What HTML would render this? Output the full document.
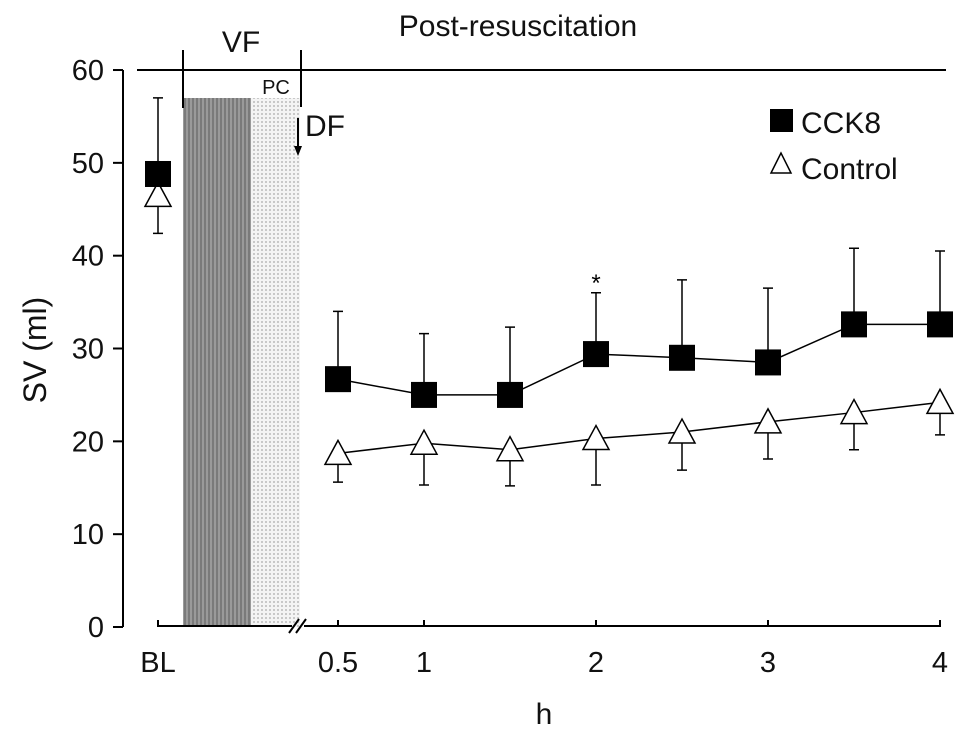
<!DOCTYPE html>
<html><head><meta charset="utf-8"><style>
body{margin:0;background:#fff}
svg{display:block;font-family:"Liberation Sans",Arial,sans-serif}
</style></head><body>
<svg id="chart" width="969" height="732" viewBox="0 0 969 732">
<defs>
<pattern id="dark" width="4" height="4" patternUnits="userSpaceOnUse"><rect width="4" height="4" fill="#9a9a9a"/><rect width="2" height="4" fill="#7a7a7a"/></pattern>
<pattern id="dots" width="4" height="4" patternUnits="userSpaceOnUse"><rect width="4" height="4" fill="#f4f4f4"/><circle cx="2" cy="2" r="0.9" fill="#aaa"/></pattern>
</defs>
<g id="static" stroke="#000" stroke-width="2" fill="none">
<rect x="183" y="98" width="68" height="529" fill="url(#dark)" stroke="none"/>
<rect x="251" y="98" width="49" height="529" fill="url(#dots)" stroke="none"/>
<line x1="123" y1="70" x2="123" y2="627"/>
<line x1="137" y1="70" x2="946" y2="70"/>
<line x1="183" y1="50" x2="183" y2="108"/>
<line x1="301" y1="50" x2="301" y2="107"/>
<line x1="298" y1="118" x2="298" y2="148"/>
<polygon points="294,146 302,146 298,156" fill="#000" stroke="none"/>
<polyline points="158,620 158,626 292,626"/>
<polyline points="304,626 940,626 940,620"/>
<line x1="289" y1="633" x2="299" y2="619"/>
<line x1="296" y1="633" x2="306" y2="619"/>
</g>
<g font-size="30" fill="#111">
<text x="241" y="52" text-anchor="middle">VF</text>
<text x="276" y="94" font-size="20" text-anchor="middle">PC</text>
<text x="305" y="136">DF</text>
<text x="518" y="36" text-anchor="middle">Post‑resuscitation</text>
<text x="544" y="724" text-anchor="middle">h</text>
<text transform="translate(46,350) rotate(-90)" font-size="32" text-anchor="middle">SV (ml)</text>
<rect x="770" y="109" width="23" height="23" fill="#000"/>
<text x="801" y="133">CCK8</text>
<polygon points="781,153 771,173 791,173" fill="#fff" stroke="#000" stroke-width="1.5"/>
<text x="801" y="179">Control</text>
</g>
<g id="dyn"></g>
</svg>
<script>
const yTicks=[0,10,20,30,40,50,60];
const xCats=["BL",0.5,1,1.5,2,2.5,3,3.5,4];
const xLabels=["BL","0.5","1","","2","","3","","4"];
const cck8=[48.8,26.7,25,25,29.4,29,28.5,32.6,32.6];
const cck8Up=[57,34,31.6,32.3,36,37.4,36.5,40.8,40.5];
const ctrl=[46.5,18.7,19.8,19.1,20.3,21,22.1,23.1,24.2];
const ctrlLo=[42.4,15.6,15.3,15.2,15.3,16.9,18.1,19.1,20.7];
const sig=[false,false,false,false,true,false,false,false,false];
const NS="http://www.w3.org/2000/svg";
const g=document.getElementById("dyn");
function y(v){return 627-v*9.283;}
function x(c){return c==="BL"?158:338+(c-0.5)*172;}
function mk(t,a,p){const e=document.createElementNS(NS,t);for(const k in a)e.setAttribute(k,a[k]);(p||g).appendChild(e);return e;}
yTicks.forEach(v=>{
 const l=mk("line",{x1:113,x2:123,y1:y(v),y2:y(v),stroke:"#000","stroke-width":2});
 
 
 const t=mk("text",{x:104,y:y(v)+10,"text-anchor":"end","font-size":29,fill:"#111"});t.textContent=v;
 
 
});
xCats.forEach((c,i)=>{
 if(xLabels[i]==="")return;
 if(c!=="BL"&&c!==4){const l=mk("line",{x1:x(c),x2:x(c),y1:620,y2:626,stroke:"#000","stroke-width":2});
 
 }
 const t=mk("text",{x:x(c),y:672,"text-anchor":"middle","font-size":29,fill:"#111"});t.textContent=xLabels[i];
 
 
});
function line(vals,name){let p="";for(let i=1;i<xCats.length;i++)p+=x(xCats[i])+","+y(vals[i])+" ";
 const l=mk("polyline",{points:p,fill:"none",stroke:"#000","stroke-width":1.5});
 
 }
line(cck8,'cck8-line');line(ctrl,'control-line');
xCats.forEach((c,i)=>{
 const cx=x(c);
 const e1=mk("path",{d:`M${cx},${y(cck8[i])}V${y(cck8Up[i])}M${cx-5},${y(cck8Up[i])}H${cx+5}`,stroke:"#000","stroke-width":1.5,fill:"none"});
 
 
 const e2=mk("path",{d:`M${cx},${y(ctrl[i])}V${y(ctrlLo[i])}M${cx-5},${y(ctrlLo[i])}H${cx+5}`,stroke:"#000","stroke-width":1.5,fill:"none"});
 
 
});
xCats.forEach((c,i)=>{
 const cx=x(c),cy=y(ctrl[i]);
 const t=mk("polygon",{points:`${cx},${cy-13} ${cx-13},${cy+11} ${cx+13},${cy+11}`,fill:"#fff",stroke:"#000","stroke-width":1.5});
 
 
 const sy=y(cck8[i]);
 const r=mk("rect",{x:cx-13,y:sy-13,width:26,height:26,fill:"#000"});
 
 
 if(sig[i]){const s=mk("text",{x:cx,y:y(cck8Up[i])-2,"text-anchor":"middle","font-size":24});s.textContent="*";
 
 }
});
</script>
</body></html>
